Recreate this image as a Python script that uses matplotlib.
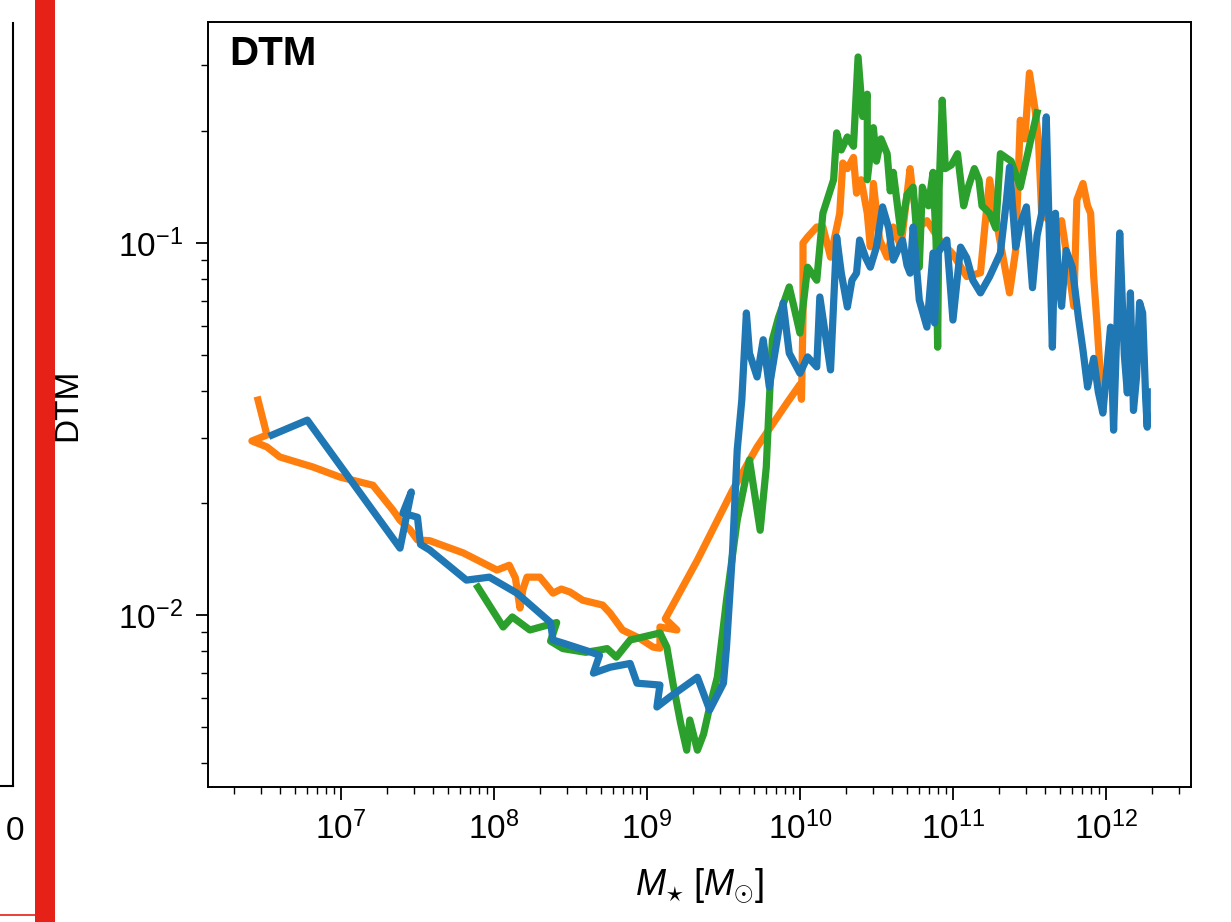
import matplotlib
matplotlib.use("Agg")
import matplotlib.pyplot as plt
import numpy as np
from matplotlib.ticker import LogLocator, NullFormatter
from matplotlib.lines import Line2D
from matplotlib.patches import Rectangle

plt.rcParams['font.family'] = ['Liberation Sans', 'DejaVu Sans']
plt.rcParams['mathtext.fontset'] = 'custom'
plt.rcParams['mathtext.rm'] = 'Liberation Sans'
plt.rcParams['mathtext.it'] = 'Liberation Sans:italic'
plt.rcParams['mathtext.bf'] = 'Liberation Sans:bold'

# log10 stellar mass / log10 dust-to-metal ratio for the three runs
orange_logm = [6.458, 6.516, 6.418, 6.516, 6.60, 6.817, 6.993, 7.209, 7.34, 7.386, 7.45, 7.50,
               7.58, 7.80, 8.02, 8.10, 8.14, 8.17, 8.19, 8.216, 8.30, 8.386, 8.44, 8.497, 8.58,
               8.71, 8.76, 8.84, 8.95, 9.04, 9.085, 9.085, 9.196, 9.12, 9.33, 9.56, 9.72, 9.915,
               10.0, 10.01, 10.02, 10.02, 10.05, 10.11, 10.15, 10.2, 10.26, 10.28, 10.31, 10.35,
               10.37, 10.40, 10.44, 10.46, 10.48, 10.52, 10.57, 10.61, 10.66, 10.72, 10.74, 10.78,
               10.83, 10.91, 11.0, 11.09, 11.18, 11.21, 11.24, 11.27, 11.37, 11.41, 11.44, 11.47,
               11.50, 11.54, 11.56, 11.58, 11.67, 11.71, 11.75, 11.79, 11.81, 11.85, 11.88,
               11.90, 11.92, 11.94, 11.96, 11.98]
orange_logdtm = [-1.422, -1.516, -1.532, -1.548, -1.575, -1.602, -1.629, -1.651, -1.718, -1.745,
                 -1.77, -1.798, -1.80, -1.833, -1.879, -1.866, -1.90, -1.981, -1.93, -1.898,
                 -1.898, -1.941, -1.93, -1.938, -1.96, -1.973, -1.995, -2.04, -2.062, -2.086,
                 -2.089, -2.032, -2.04, -2.01, -1.852, -1.664, -1.548, -1.43, -1.38, -1.42, -1.2,
                 -1.0, -0.984, -0.957, -0.957, -1.038, -0.92, -0.785, -0.80, -0.77, -0.866,
                 -0.83, -0.92, -1.01, -0.84, -0.99, -1.038, -0.957, -1.01, -0.80, -0.875, -0.957,
                 -0.94, -0.99, -1.03, -1.09, -1.08, -0.95, -0.83, -0.91, -1.134, -1.02, -0.67,
                 -0.72, -0.543, -0.65, -0.73, -0.92, -0.955, -0.94, -1.05, -1.17, -0.884, -0.84,
                 -0.90, -0.92, -1.09, -1.207, -1.333, -1.44]

green_logm = [7.895, 8.06, 8.12, 8.235, 8.41, 8.37, 8.45, 8.60, 8.69, 8.74, 8.80, 8.89, 9.085,
              9.13, 9.17, 9.22, 9.26, 9.28, 9.33, 9.37, 9.41, 9.46, 9.52, 9.59, 9.67, 9.74, 9.78,
              9.80, 9.82, 9.86, 9.93, 9.96, 10.0, 10.05, 10.11, 10.15, 10.22, 10.24, 10.27,
              10.31, 10.35, 10.38, 10.41, 10.44, 10.44, 10.48, 10.50, 10.53, 10.57, 10.59, 10.61,
              10.66, 10.70, 10.74, 10.78, 10.80, 10.84, 10.87, 10.89, 10.90, 10.91, 10.93, 10.95,
              10.99, 11.03, 11.07, 11.10, 11.14, 11.17, 11.19, 11.24, 11.28, 11.31, 11.38,
              11.44, 11.51, 11.55]
green_logdtm = [-1.925, -2.032, -2.005, -2.04, -2.02, -2.07, -2.09, -2.10, -2.094, -2.09, -2.113,
                -2.067, -2.048, -2.086, -2.183, -2.29, -2.363, -2.282, -2.363, -2.32, -2.247,
                -2.167, -1.96, -1.745, -1.583, -1.772, -1.602, -1.422, -1.26, -1.20, -1.118,
                -1.17, -1.242, -1.065, -1.10, -0.92, -0.83, -0.704, -0.75, -0.715, -0.74, -0.50,
                -0.66, -0.60, -0.83, -0.69, -0.78, -0.72, -0.76, -0.86, -0.81, -0.973, -0.87,
                -0.85, -1.065, -0.85, -0.90, -0.81, -1.0, -1.28, -0.85, -0.616, -0.80, -0.79,
                -0.76, -0.90, -0.85, -0.80, -0.83, -0.90, -0.92, -0.96, -0.76, -0.78, -0.85,
                -0.72, -0.65]

blue_logm = [6.55, 6.78, 7.386, 7.46, 7.405, 7.50, 7.52, 7.58, 7.82, 7.97, 8.15, 8.37, 8.386,
             8.45, 8.63, 8.69, 8.65, 8.76, 8.89, 8.935, 9.085, 9.065, 9.15, 9.33, 9.41, 9.50,
             9.52, 9.56, 9.59, 9.62, 9.65, 9.67, 9.72, 9.76, 9.80, 9.89, 9.93, 10.0, 10.05, 10.11,
             10.13, 10.2, 10.24, 10.27, 10.31, 10.34, 10.37, 10.39, 10.43, 10.46, 10.50, 10.54,
             10.58, 10.61, 10.67, 10.70, 10.72, 10.74, 10.78, 10.83, 10.87, 10.88, 10.9, 10.96,
             11.0, 11.05, 11.09, 11.13, 11.18, 11.24, 11.31, 11.35, 11.37, 11.41, 11.44, 11.48,
             11.52, 11.55, 11.58, 11.61, 11.63, 11.65, 11.67, 11.69, 11.71, 11.74, 11.78, 11.82,
             11.85, 11.88, 11.92, 11.95, 11.98, 12.03, 12.05, 12.07, 12.09, 12.12, 12.14, 12.16,
             12.18, 12.2, 12.22, 12.24, 12.26, 12.27, 12.27]
blue_logdtm = [-1.516, -1.476, -1.82, -1.669, -1.726, -1.737, -1.81, -1.825, -1.906, -1.898,
               -1.941, -2.02, -2.067, -2.075, -2.099, -2.108, -2.156, -2.14, -2.13, -2.183,
               -2.188, -2.247, -2.22, -2.167, -2.255, -2.183, -2.086, -1.825, -1.556, -1.422,
               -1.188, -1.296, -1.36, -1.26, -1.387, -1.161, -1.296, -1.35, -1.306, -1.333,
               -1.145, -1.341, -0.984, -1.08, -1.172, -1.10, -1.081, -0.992, -1.04, -1.065,
               -1.011, -0.903, -0.96, -1.046, -0.992, -1.06, -1.081, -0.957, -1.153, -1.226,
               -1.027, -1.215, -1.027, -0.992, -1.207, -1.011, -1.04, -1.10, -1.134, -1.09,
               -1.027, -0.884, -0.796, -1.011, -0.95, -0.903, -1.12, -0.98, -0.92, -0.661,
               -0.98, -1.28, -0.92, -1.10, -1.17, -1.02, -1.065, -1.20, -1.288, -1.387, -1.31,
               -1.40, -1.457, -1.226, -1.503, -1.25, -0.973, -1.30, -1.403, -1.134, -1.45, -1.36,
               -1.16, -1.188, -1.42, -1.495, -1.40]

series = [
    (orange_logm, orange_logdtm, '#ff7f0e'),
    (green_logm, green_logdtm, '#2ca02c'),
    (blue_logm, blue_logdtm, '#1f77b4'),
]

W, H = 1231, 922
fig = plt.figure(figsize=(W / 100, H / 100), dpi=100)

ax = fig.add_axes([208 / W, 1 - 787 / H, (1191 - 208) / W, (787 - 22) / H])
for lm, ld, c in series:
    ax.plot(10 ** np.array(lm), 10 ** np.array(ld), color=c, lw=5.2, solid_joinstyle='round')

ax.set_xscale('log')
ax.set_yscale('log')
ax.set_xlim(10 ** 6.131, 10 ** 12.556)
ax.set_ylim(10 ** -2.462, 10 ** -0.406)
ax.xaxis.set_major_locator(LogLocator(base=10, numticks=20))
ax.xaxis.set_minor_locator(LogLocator(base=10, subs=np.arange(2, 10), numticks=40))
ax.xaxis.set_minor_formatter(NullFormatter())
ax.yaxis.set_minor_formatter(NullFormatter())

for s in ax.spines.values():
    s.set_linewidth(1.4)
ax.tick_params(which='major', length=9, width=1.3, labelsize=24, direction='out',
               top=False, right=False, pad=9)
ax.tick_params(which='minor', length=5, width=1.0, direction='out', top=False, right=False)

ax.set_ylabel('DTM', fontsize=24)
ax.yaxis.set_label_coords(-0.127, 0.5)
ax.set_xlabel(r'$M_{\star}\ [M_{\odot}]$', fontsize=26)
ax.xaxis.set_label_coords(0.5, -0.103)

ax.text(0.022, 0.983, 'DTM', transform=ax.transAxes, fontsize=29, fontweight='bold',
        ha='left', va='top')

# neighbouring panel edge on the left
fig.add_artist(Line2D([0, 13 / W], [1 - 786 / H, 1 - 786 / H], color='black', lw=1.5))
fig.add_artist(Line2D([13 / W, 13 / W], [1 - 786 / H, 1 - 23 / H], color='black', lw=1.5))
fig.text(24 / W, 1 - 831 / H, '0', fontsize=24, ha='right', va='center')

# highlight frame
fig.add_artist(Rectangle((35 / W, 0), 20 / W, 1, transform=fig.transFigure,
                         facecolor='#e62117', edgecolor='none'))
fig.add_artist(Line2D([0, 35 / W], [1 - 915 / H, 1 - 915 / H], color='#e62117', lw=1.2))

fig.savefig('out.png', dpi=100)
